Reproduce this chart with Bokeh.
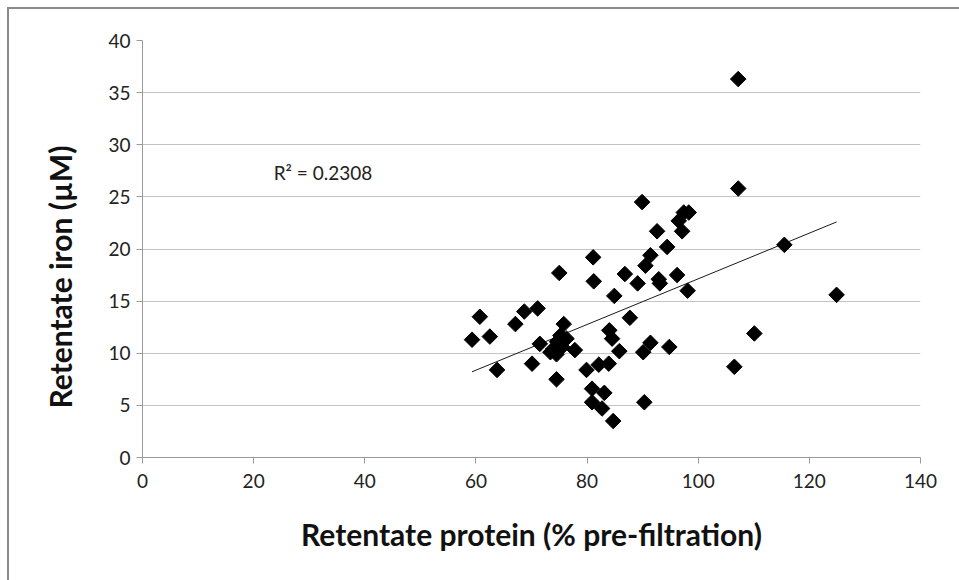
import numpy as np
from bokeh.plotting import figure
from bokeh.models import Label, FixedTicker, Title
from bokeh.embed import file_html
from bokeh.resources import INLINE

# Retentate protein (% pre-filtration)
protein = [59.3, 60.7, 62.5, 63.8, 67.1, 68.7, 70.1, 71.1, 71.5, 73.4,
           74.5, 74.5, 74.6, 75.0, 75.2, 75.5, 75.8, 77.8, 79.9, 80.9,
           80.9, 81.1, 81.2, 82.1, 82.7, 83.1, 83.9, 84.0, 84.5, 84.7,
           84.9, 85.8, 86.8, 87.7, 89.1, 89.9, 90.1, 90.3, 90.5, 91.4,
           91.4, 92.6, 92.9, 93.1, 94.4, 94.8, 96.2, 96.5, 97.1, 97.4,
           98.3, 98.1, 106.5, 107.2, 107.2, 110.1, 115.5, 124.9,
           76.3, 73.9]
# Retentate iron (uM)
iron = [11.3, 13.5, 11.6, 8.4, 12.8, 14.0, 9.0, 14.3, 10.9, 10.1,
        9.9, 7.5, 11.1, 17.7, 11.7, 10.6, 12.8, 10.3, 8.4, 6.6,
        5.3, 19.2, 16.9, 8.9, 4.7, 6.2, 9.0, 12.2, 11.4, 3.5,
        15.5, 10.2, 17.6, 13.4, 16.7, 24.5, 10.1, 5.3, 18.4, 19.4,
        11.0, 21.7, 17.1, 16.7, 20.2, 10.6, 17.5, 22.7, 21.7, 23.5,
        23.5, 16.0, 8.7, 25.8, 36.3, 11.9, 20.4, 15.6,
        11.4, 10.4]

x_ticks = [0, 20, 40, 60, 80, 100, 120, 140]
y_ticks = [0, 5, 10, 15, 20, 25, 30, 35, 40]
r2_text = "R\u00b2 = 0.2308"
x_title = "Retentate protein (% pre-filtration)"
y_title = "Retentate iron (\u00b5M)"

FONT = "Lato"

p = figure(frame_width=778, frame_height=417,
           x_range=(0, 140), y_range=(0, 40),
           min_border_left=133, min_border_right=39,
           min_border_top=31, min_border_bottom=123,
           output_backend="svg", toolbar_location=None)
p.margin = (7, 0, 0, 7)
p.styles = {"border-left": "2px solid #8a8a8a", "border-top": "2px solid #8a8a8a"}

p.outline_line_color = None
p.background_fill_color = "white"
p.border_fill_color = "white"

p.xgrid.grid_line_color = None
p.ygrid.grid_line_color = "#c4c4c4"
p.ygrid.grid_line_width = 1

p.xaxis.ticker = FixedTicker(ticks=x_ticks)
p.yaxis.ticker = FixedTicker(ticks=y_ticks)
for ax in (p.xaxis, p.yaxis):
    ax.axis_line_color = "#9a9a9a"
    ax.major_tick_line_color = "#9a9a9a"
    ax.major_tick_out = 6
    ax.major_tick_in = 0
    ax.minor_tick_line_color = None
    ax.major_label_text_font = FONT
    ax.major_label_text_font_size = "19px"
    ax.major_label_text_color = "#222222"
    ax.axis_label_text_font = FONT
    ax.axis_label_text_font_style = "bold"
    ax.axis_label_text_font_size = "30px"
    ax.axis_label_text_color = "#111111"

p.xaxis.axis_label = x_title
p.xaxis.major_label_standoff = 10
p.xaxis.axis_label_standoff = 25
p.yaxis.major_label_standoff = 6

# Y axis title as a side title, starting a little above the frame bottom
p.add_layout(Title(text=y_title, align="left", offset=49, standoff=55,
                   text_font=FONT, text_font_style="bold",
                   text_font_size="30px", text_color="#111111"), "left")

# Linear trendline from least squares over the data
xs = np.array(protein)
ys = np.array(iron)
slope, intercept = np.polyfit(xs, ys, 1)
tx = np.array([xs.min(), xs.max()])
p.line(tx, slope * tx + intercept, line_color="#1a1a1a", line_width=1)

p.scatter(protein, iron, marker="square", angle=np.pi / 4, size=11,
          fill_color="black", line_color="black")

p.add_layout(Label(x=23.6, y=27.3, text=r2_text, text_font=FONT,
                   text_font_size="19px", text_color="#222222",
                   text_baseline="middle", text_align="left"))

open("out.html", "w").write(file_html(p, INLINE))
